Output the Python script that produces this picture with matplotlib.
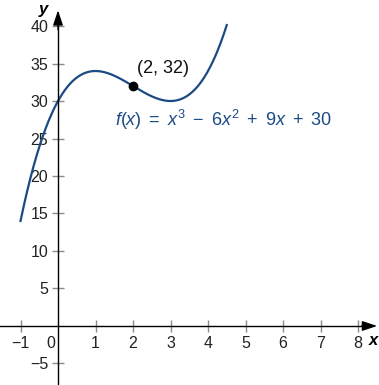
import numpy as np
import matplotlib
matplotlib.use("Agg")
import matplotlib.pyplot as plt

plt.rcParams['font.family'] = ['Liberation Sans', 'DejaVu Sans']
plt.rcParams['mathtext.fontset'] = 'custom'
plt.rcParams['mathtext.rm'] = 'Liberation Sans'
plt.rcParams['mathtext.it'] = 'Liberation Sans:italic'
plt.rcParams['mathtext.bf'] = 'Liberation Sans:bold'

# Data
coefficients = [1, -6, 9, 30]          # f(x) = x^3 - 6x^2 + 9x + 30
x_range = [-1, 4.5]
point = (2, 32)
xticks = [-1, 1, 2, 3, 4, 5, 6, 7, 8]
yticks = [-5, 5, 10, 15, 20, 25, 30, 35, 40]

blue = '#1c4a84'
tick_color = '#8a8a8a'

fig = plt.figure(figsize=(3.79, 3.85), dpi=100)
ax = fig.add_axes([0, 0, 1, 1])
ax.set_xlim(-1.547, 8.56)
ax.set_ylim(-7.87, 43.47)

for s in ['top', 'right']:
    ax.spines[s].set_visible(False)
ax.spines['left'].set_position(('data', 0))
ax.spines['bottom'].set_position(('data', 0))
ax.spines['left'].set_linewidth(1.0)
ax.spines['bottom'].set_linewidth(1.0)
ax.spines['left'].set_bounds(-7.87, 41.0)
ax.spines['bottom'].set_bounds(-1.547, 8.3)

# arrows
arrow_kw = dict(arrowstyle='-|>,head_length=0.9,head_width=0.3', color='black',
                lw=1.0, shrinkA=0, shrinkB=0)
ax.annotate('', xy=(8.51, 0), xytext=(8.1, 0), arrowprops=arrow_kw, annotation_clip=False)
ax.annotate('', xy=(0, 42.1), xytext=(0, 39.5), arrowprops=arrow_kw, annotation_clip=False)

ax.set_xticks(xticks)
ax.set_yticks(yticks)
ax.set_xticklabels([('\u2212' + str(-t)) if t < 0 else str(t) for t in xticks])
ax.set_yticklabels([('\u2212' + str(-t)) if t < 0 else str(t) for t in yticks])
ax.tick_params(direction='inout', length=8, width=1.0, color=tick_color,
               labelsize=11.5, labelcolor='#222222', pad=3)

ax.text(-0.08, -1.3, '0', ha='right', va='top', fontsize=11.5, color='#222222')
ax.text(8.54, -1.0, 'x', ha='right', va='top', fontsize=12, style='italic', fontweight='bold')
ax.text(-0.27, 43.2, 'y', ha='right', va='top', fontsize=12, style='italic', fontweight='bold')

xs = np.linspace(x_range[0], x_range[1], 400)
ys = np.polyval(coefficients, xs)
ax.plot(xs, ys, color=blue, linewidth=1.6)

ax.plot(point[0], point[1], 'o', color='black', markersize=6)
ax.text(2.11, 34.4, '(2, 32)', ha='left', va='center', fontsize=13, color='#111111')
ax.text(1.52, 27.5,
        r'$f\mathrm{(}x\mathrm{)}\ =\ x^3\ -\ 6x^2\ +\ 9x\ +\ 30$',
        ha='left', va='center', fontsize=13, color=blue)

fig.savefig('out.png', dpi=100)
